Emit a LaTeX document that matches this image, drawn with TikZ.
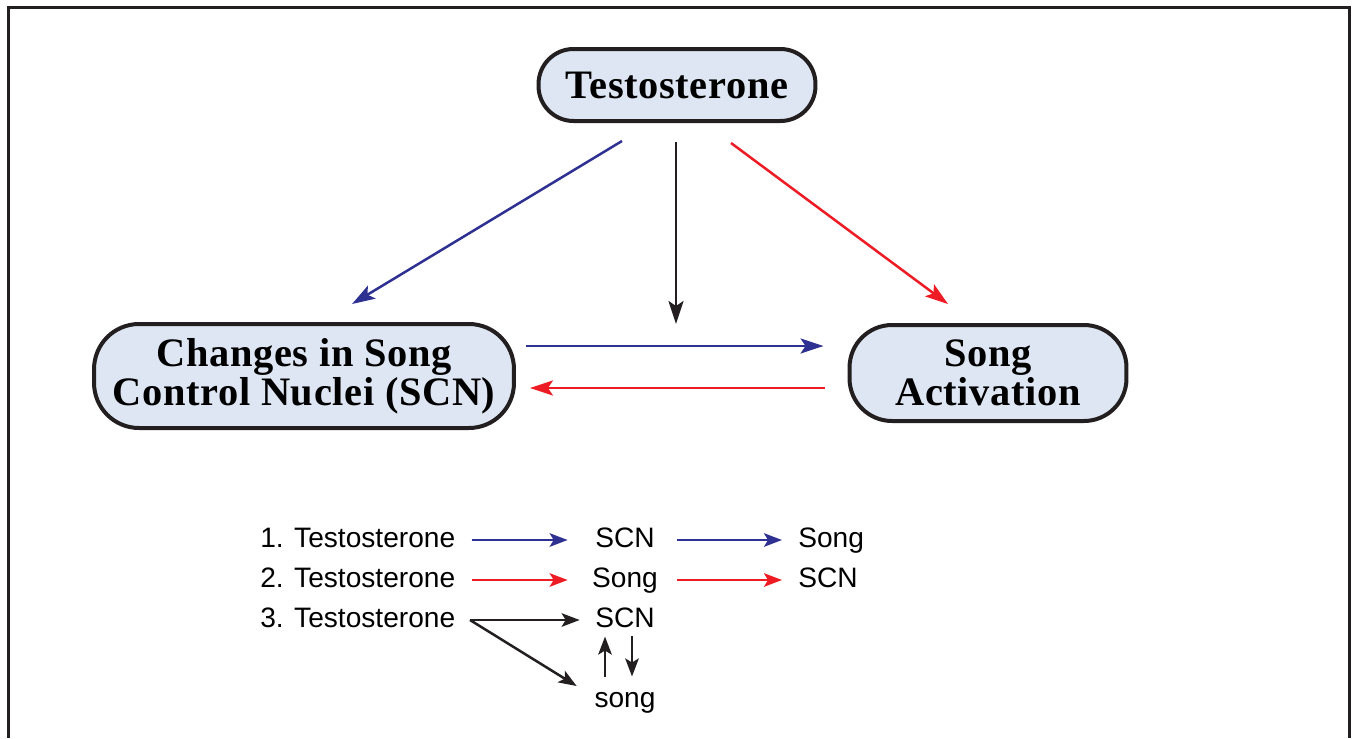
\documentclass[tikz,border=0pt]{standalone}
\usepackage{fontspec}
\setmainfont{Liberation Serif}
\newfontfamily\boxfont[LetterSpace=1.6]{Liberation Serif}
\newfontfamily\listfont{Liberation Sans}
\usetikzlibrary{arrows.meta,calc}
\definecolor{boxfill}{RGB}{221,230,242}
\definecolor{linkblue}{RGB}{46,49,146}
\definecolor{linkred}{RGB}{237,28,36}
\definecolor{framegray}{RGB}{35,31,32}

\begin{document}
\begin{tikzpicture}[x=0.02cm, y=-0.02cm,
    hormone/.style={draw=framegray, line width=0.08cm, fill=boxfill, rounded corners=#1, align=center, inner sep=0pt, font=\boxfont\fontsize{23}{21}\selectfont\bfseries},
    bigarrow/.style={-{Stealth[length=0.46cm, width=0.3cm, inset=0.1cm]}, line width=0.05cm},
    item/.style={inner sep=0pt, text height=11.5pt, text depth=3.5pt, font=\listfont\fontsize{16}{18}\selectfont},
    midcol/.style={item, minimum width=2.08cm},
    smallarrow/.style={-{Stealth[length=0.36cm, width=0.27cm, inset=0.08cm]}, line width=0.05cm}]
    \useasboundingbox (0,0) rectangle (1354,738);

    % Frame - open at the bottom
    \draw[framegray, line width=0.06cm] (8.5,738) -- (8.5,7.5) -- (1349,7.5) -- (1349,738);

    % Boxes - positioned explicitly
    \node[hormone=0.7cm, minimum width=5.54cm, minimum height=1.44cm] (testo) at (677,85) {Testosterone};
    \node[hormone=0.9cm, minimum width=8.40cm, minimum height=2.08cm] (scn) at (304,376) {Changes in Song\\Control Nuclei (SCN)};
    \node[hormone=0.85cm, minimum width=5.54cm, minimum height=1.92cm] (song) at (988,373) {Song\\Activation};

    % Arrows from testosterone
    \draw[bigarrow, linkblue] ($(testo.south)+(-55,18)$) -- ($(scn.north)+(48,-18)$);
    \coordinate (meet) at (676,324);
    \draw[bigarrow, framegray] ($(testo.south)+(-1,19)$) -- (meet);
    \draw[bigarrow, linkred] ($(testo.south)+(54,20)$) -- ($(song.north)+(-40,-19)$);

    % Arrows between SCN and song
    \draw[bigarrow, linkblue] ($(scn.east)+(10,-30)$) -- ($(song.west)+(-24,-27)$);
    \draw[bigarrow, linkred] ($(song.west)+(-23,15)$) -- ($(scn.east)+(14,12)$);

    % List - row 1
    \node[item, anchor=west] (t1) at (260,540) {1. Testosterone};
    \node[midcol] (m1) at (625,540) {SCN};
    \node[item, anchor=west] (e1) at (798,540) {Song};
    \draw[smallarrow, linkblue, shorten <=0.32cm, shorten >=0.1cm] (t1.east) -- (m1.west);
    \draw[smallarrow, linkblue, shorten >=0.32cm] (m1.east) -- (e1.west);

    % List - row 2
    \node[item, anchor=west] (t2) at (260,580) {2. Testosterone};
    \node[midcol] (m2) at (625,580) {Song};
    \node[item, anchor=west] (e2) at (798,580) {SCN};
    \draw[smallarrow, linkred, shorten <=0.32cm, shorten >=0.1cm] (t2.east) -- (m2.west);
    \draw[smallarrow, linkred, shorten >=0.32cm] (m2.east) -- (e2.west);

    % List - row 3 with fork
    \node[item, anchor=west] (t3) at (260,620) {3. Testosterone};
    \node[midcol] (m3) at (625,620) {SCN};
    \node[midcol] (low) at (625,700) {song};
    \coordinate (fork) at (470,620);
    \draw[smallarrow, framegray] (fork) -- ([xshift=0.14cm]m3.west);
    \draw[smallarrow, framegray] (fork) -- ($(low.west)+(4,-14)$);
    \draw[smallarrow, framegray, shorten <=0.18cm, shorten >=0.06cm] ([xshift=-0.4cm]low.north) -- ([xshift=-0.4cm]m3.south);
    \draw[smallarrow, framegray, shorten <=0.04cm, shorten >=0.2cm] ([xshift=0.14cm]m3.south) -- ([xshift=0.14cm]low.north);
\end{tikzpicture}
\end{document}
